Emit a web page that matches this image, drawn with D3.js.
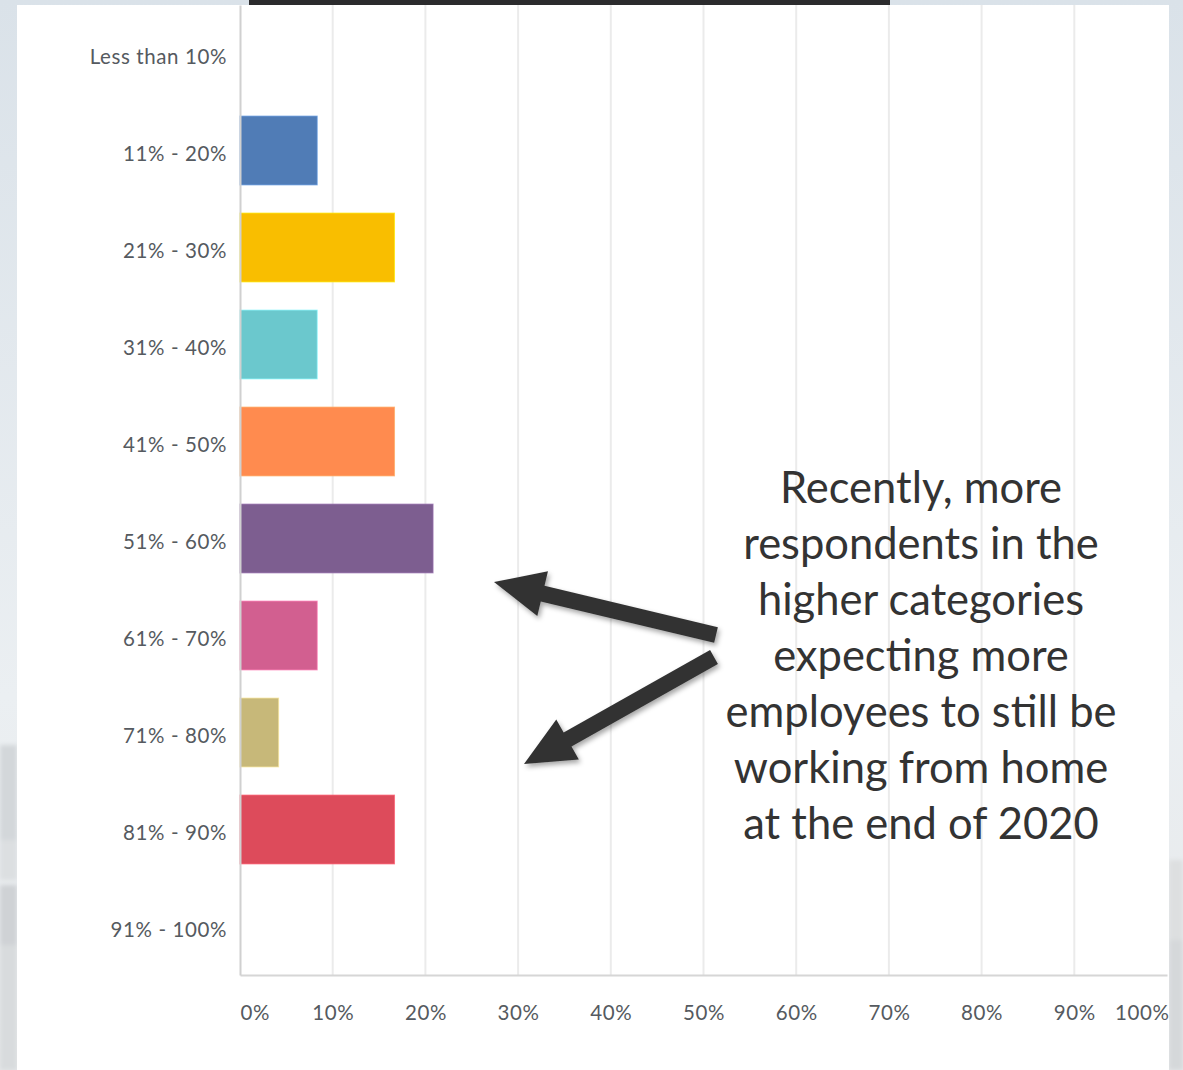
<!DOCTYPE html>
<html>
<head>
<meta charset="utf-8">
<script src="https://cdn.jsdelivr.net/npm/d3@7/dist/d3.min.js"></script>
<style>
  html, body { margin: 0; padding: 0; }
  body { width: 1183px; height: 1070px; overflow: hidden; background: #fff; }
  svg { display: block; }
</style>
</head>
<body>
<svg id="chart" width="1183" height="1070"></svg>
<script>
// Share of employees expected to be working from home — answer buckets
const categories = ["Less than 10%", "11% - 20%", "21% - 30%", "31% - 40%", "41% - 50%",
                    "51% - 60%", "61% - 70%", "71% - 80%", "81% - 90%", "91% - 100%"];
// Percent of respondents per bucket
const values = [0, 8.33, 16.67, 8.33, 16.67, 20.83, 8.33, 4.17, 16.67, 0];
const barColors = ["#507cb6", "#507cb6", "#f9be00", "#6bc8cd", "#ff8b4f",
                   "#7d5e90", "#d25f90", "#c7b879", "#dd4b5b", "#507cb6"];
const xTicks = [0, 10, 20, 30, 40, 50, 60, 70, 80, 90, 100];
const noteLines = ["Recently, more", "respondents in the", "higher categories",
                   "expecting more", "employees to still be", "working from home",
                   "at the end of 2020"];

const svg = d3.select("#chart");
const W = 1183, H = 1070;
const labelFont = "Lato, 'Open Sans', sans-serif";

// ---- slide backdrop ----
const defs = svg.append("defs");
const bg = defs.append("linearGradient").attr("id", "bgGrad")
  .attr("x1", 0).attr("y1", 0).attr("x2", 0).attr("y2", 1);
bg.append("stop").attr("offset", "0%").attr("stop-color", "#dae2e9");
bg.append("stop").attr("offset", "65%").attr("stop-color", "#ebeff2");
bg.append("stop").attr("offset", "100%").attr("stop-color", "#e6e8ea");
defs.append("filter").attr("id", "soft").attr("x", "-50%").attr("y", "-50%")
  .attr("width", "200%").attr("height", "200%")
  .append("feGaussianBlur").attr("stdDeviation", 2);
const sh = defs.append("filter").attr("id", "shadow")
  .attr("x", "-20%").attr("y", "-20%").attr("width", "140%").attr("height", "140%");
sh.append("feDropShadow").attr("dx", 2).attr("dy", 3).attr("stdDeviation", 2.5)
  .attr("flood-color", "#000").attr("flood-opacity", 0.35);

svg.append("rect").attr("width", W).attr("height", H).attr("fill", "url(#bgGrad)");
// blurred city silhouettes peeking out at the edges
const city = svg.append("g").attr("filter", "url(#soft)");
[[0, 745, 17, 95, "#d3d7da"], [0, 840, 17, 40, "#dcdfe1"], [0, 885, 17, 60, "#cfd2d5"],
 [0, 945, 17, 125, "#d8dbdd"], [1169, 860, 14, 80, "#dddfe0"], [1169, 940, 14, 130, "#d5d8da"]]
  .forEach(([x, y, w, h, c]) => city.append("rect").attr("x", x).attr("y", y)
    .attr("width", w).attr("height", h).attr("fill", c));

// title underline from the slide heading
svg.append("rect").attr("x", 249).attr("y", 0).attr("width", 641).attr("height", 5).attr("fill", "#2b2b2d");

// white chart panel
svg.append("rect").attr("x", 17).attr("y", 5).attr("width", 1152).attr("height", 1065).attr("fill", "#ffffff");

// ---- chart ----
const plot = { left: 240, right: 1167, top: 5, bottom: 975 };

const x = d3.scaleLinear().domain([0, 100]).range([plot.left, plot.right]);
const y = d3.scaleBand().domain(categories).range([plot.top, plot.bottom])
  .paddingInner(0.29).paddingOuter(0.145);

// vertical grid
svg.append("g").selectAll("line").data(xTicks.slice(1, -1)).join("line")
  .attr("x1", d => x(d)).attr("x2", d => x(d))
  .attr("y1", plot.top).attr("y2", plot.bottom)
  .attr("stroke", "#ebebeb").attr("stroke-width", 2);

// bars
svg.append("g").selectAll("rect").data(values).join("rect")
  .attr("x", x(0))
  .attr("y", (d, i) => y(categories[i]))
  .attr("width", d => x(d) - x(0))
  .attr("height", y.bandwidth())
  .attr("fill", (d, i) => barColors[i])
  .attr("stroke", (d, i) => d3.color(barColors[i]).brighter(0.6))
  .attr("stroke-width", 1)
  .attr("stroke-opacity", 0.7);

// x axis: line and percent labels
const xAxis = d3.axisBottom(x).tickValues(xTicks).tickFormat(d => d + "%").tickSize(0).tickPadding(30);
const gx = svg.append("g").attr("transform", `translate(0,${plot.bottom})`).call(xAxis);
gx.select(".domain").attr("stroke", "#d6d6d6").attr("stroke-width", 2);
gx.selectAll("text")
  .attr("font-family", labelFont)
  .attr("font-size", 20.5).attr("letter-spacing", 0.6).attr("fill", "#555a60")
  .attr("text-anchor", (d, i) => i === 0 ? "start" : (i === xTicks.length - 1 ? "end" : "middle"))
  .attr("dx", (d, i) => i === xTicks.length - 1 ? 2 : 0);

// y axis: line and category labels
const yAxis = d3.axisLeft(y).tickSize(0).tickPadding(13);
const gy = svg.append("g").attr("transform", `translate(${plot.left},0)`).call(yAxis);
gy.select(".domain").attr("stroke", "#d0d0d0").attr("stroke-width", 2);
const labelBoxLeft = 89;
gy.selectAll("text")
  .attr("font-family", labelFont)
  .attr("font-size", 20.5).attr("letter-spacing", 0.6).attr("fill", "#555a60")
  .attr("dy", "0.5em")
  .each(function () {
    // labels wider than the label column start at its left edge
    const t = d3.select(this);
    const w = this.getComputedTextLength();
    const right = -13;
    if (plot.left + right - w < labelBoxLeft) {
      t.attr("text-anchor", "start").attr("x", labelBoxLeft - plot.left);
    }
  });

// ---- annotation ----
const note = svg.append("text")
  .attr("font-family", labelFont)
  .attr("font-size", 43.5).attr("fill", "#333333")
  .attr("text-anchor", "middle");
noteLines.forEach((line, i) => {
  note.append("tspan").attr("x", 921).attr("y", 503 + i * 56).text(line);
});

// arrows pointing back at the upper buckets
function arrowPath(x0, y0, x1, y1, shaft, headLen, headW) {
  const dx = x1 - x0, dy = y1 - y0, L = Math.hypot(dx, dy);
  const ux = dx / L, uy = dy / L, nx = -uy, ny = ux;
  const bx = x1 - ux * headLen, by = y1 - uy * headLen;
  const p = [
    [x0 + nx * shaft / 2, y0 + ny * shaft / 2],
    [bx + nx * shaft / 2, by + ny * shaft / 2],
    [bx + nx * headW / 2, by + ny * headW / 2],
    [x1, y1],
    [bx - nx * headW / 2, by - ny * headW / 2],
    [bx - nx * shaft / 2, by - ny * shaft / 2],
    [x0 - nx * shaft / 2, y0 - ny * shaft / 2]
  ];
  return d3.line()(p) + "Z";
}
const arrows = svg.append("g").attr("filter", "url(#shadow)");
arrows.append("path").attr("d", arrowPath(716, 635, 494, 582, 16, 50, 46)).attr("fill", "#333333");
arrows.append("path").attr("d", arrowPath(714, 657, 524, 764, 16, 50, 46)).attr("fill", "#333333");
</script>
</body>
</html>
